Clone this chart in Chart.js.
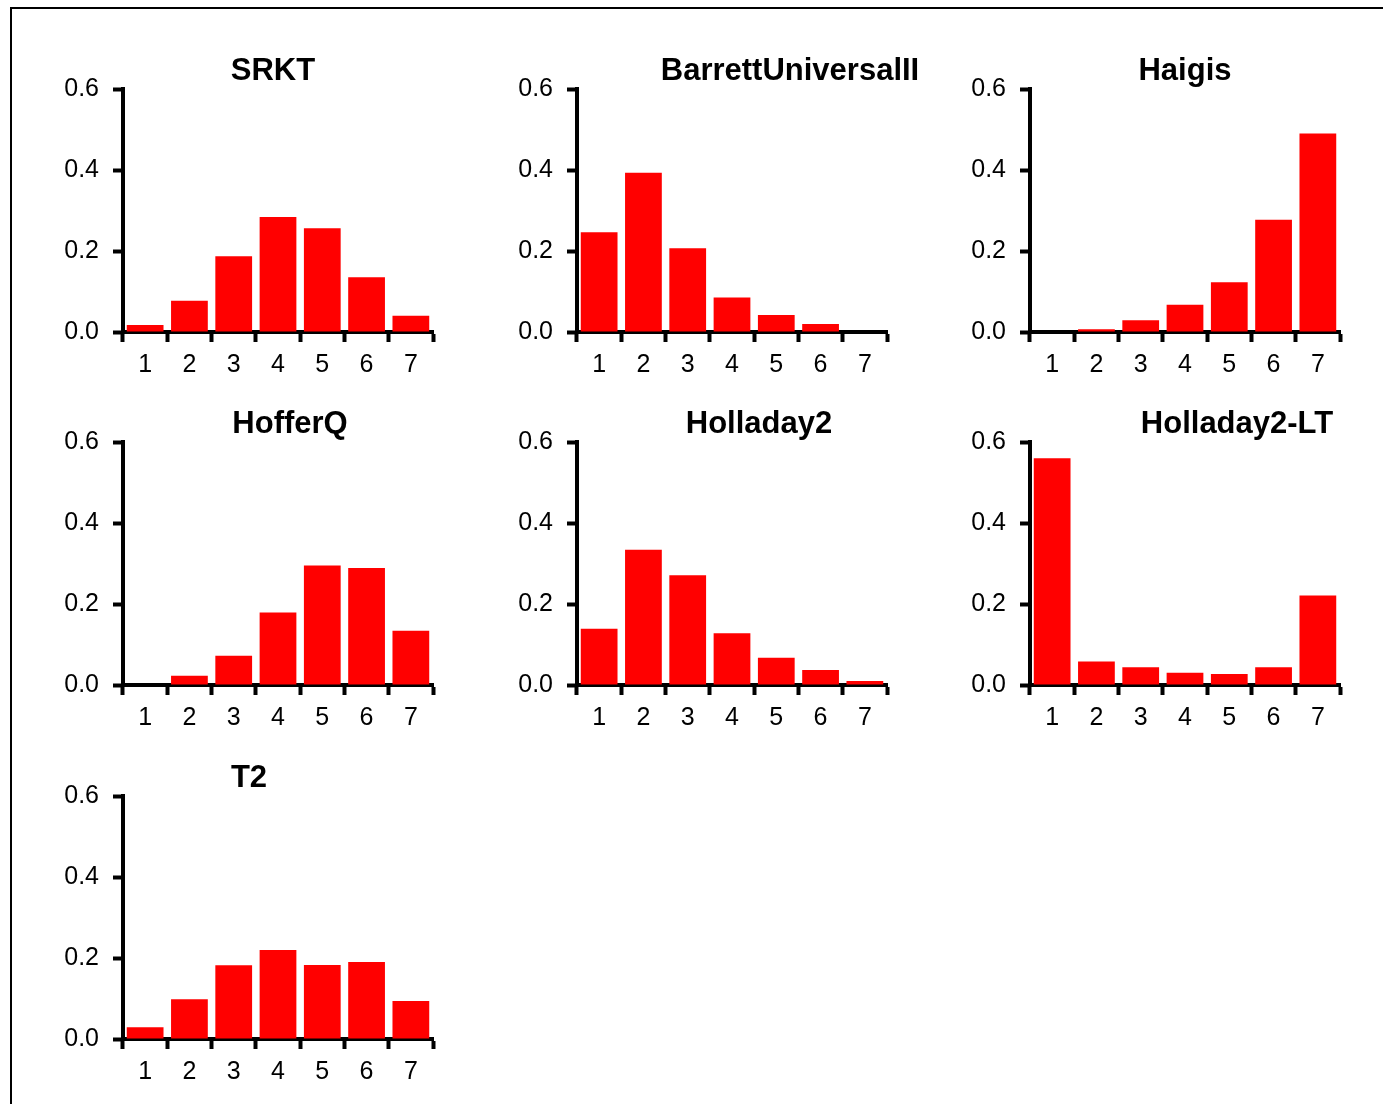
<!DOCTYPE html>
<html>
<head>
<meta charset="utf-8">
<script src="https://cdn.jsdelivr.net/npm/chart.js@4.4.1/dist/chart.umd.min.js"></script>
<style>
    html, body { margin: 0; padding: 0; background: #fff; overflow: hidden; }
    body { width: 1383px; height: 1104px; position: relative; }
    #frame {
        position: absolute; left: 10px; top: 7px; width: 1400px; height: 1120px;
        border-left: 2px solid #000; border-top: 2px solid #000;
    }
    canvas.panel { position: absolute; }
</style>
</head>
<body>
<div id="frame"></div>

<script>
// Bins on the x axis and the y tick values shared by every panel.
const categories = ['1', '2', '3', '4', '5', '6', '7'];
const yTickValues = [0, 0.2, 0.4, 0.6];

// Proportion of eyes per bin, one array per formula.
const srkt        = [0.017, 0.077, 0.187, 0.284, 0.256, 0.135, 0.040];
const barrett     = [0.246, 0.393, 0.207, 0.085, 0.042, 0.020, 0.000];
const haigis      = [0.000, 0.007, 0.029, 0.067, 0.123, 0.277, 0.490];
const hofferQ     = [0.000, 0.023, 0.072, 0.179, 0.295, 0.289, 0.134];
const holladay2   = [0.139, 0.334, 0.271, 0.128, 0.067, 0.037, 0.010];
const holladay2LT = [0.560, 0.058, 0.044, 0.030, 0.027, 0.044, 0.221];
const t2          = [0.029, 0.098, 0.182, 0.220, 0.183, 0.190, 0.094];

const panelNames = ['SRKT', 'BarrettUniversalII', 'Haigis', 'HofferQ', 'Holladay2', 'Holladay2-LT', 'T2'];
const panelData = [srkt, barrett, haigis, hofferQ, holladay2, holladay2LT, t2];

// Page layout: left edge of each column's plot area, top of each row's plot area,
// and how far each title sits from the middle of its plot.
const colLeft = [123, 577, 1030];
const rowTop = [89, 442, 796];
const titleShift = [-5, 58, 0, 12, 27, 52, -29];

const PLOT_W = 310, PLOT_H = 243;
const PAD = { left: 10, top: 60, right: 80, bottom: 5 };
const Y_AXIS_W = 70, X_AXIS_H = 55;
const FONT = '"Liberation Sans", Arial, Helvetica, sans-serif';

Chart.defaults.font.family = FONT;
Chart.defaults.color = '#000';

// Bold title drawn above the plot area, nudged sideways per panel.
const panelTitle = {
    id: 'panelTitle',
    afterDraw(chart, args, opts) {
        const { ctx, chartArea } = chart;
        ctx.save();
        ctx.font = `bold 31px ${FONT}`;
        ctx.fillStyle = '#000';
        ctx.textAlign = 'center';
        ctx.textBaseline = 'alphabetic';
        ctx.fillText(opts.text, (chartArea.left + chartArea.right) / 2 + opts.shift, chartArea.top - 9);
        ctx.restore();
    }
};

function axisStyle() {
    return {
        display: true,
        drawOnChartArea: false,
        drawTicks: true,
        tickLength: 10,
        tickWidth: 4,
        tickColor: '#000'
    };
}

function drawPanel(index) {
    const col = index % 3;
    const row = Math.floor(index / 3);

    const canvas = document.createElement('canvas');
    canvas.className = 'panel';
    const w = PAD.left + Y_AXIS_W + PLOT_W + PAD.right;
    const h = PAD.top + PLOT_H + X_AXIS_H + PAD.bottom;
    canvas.width = w;
    canvas.height = h;
    canvas.style.left = (colLeft[col] - PAD.left - Y_AXIS_W) + 'px';
    canvas.style.top = (rowTop[row] - PAD.top) + 'px';
    canvas.style.width = w + 'px';
    canvas.style.height = h + 'px';
    document.body.appendChild(canvas);

    return new Chart(canvas, {
        type: 'bar',
        data: {
            labels: categories,
            datasets: [{
                label: panelNames[index],
                data: panelData[index],
                backgroundColor: '#ff0000',
                borderWidth: 0,
                barPercentage: 0.83,
                categoryPercentage: 1.0
            }]
        },
        options: {
            responsive: false,
            animation: false,
            devicePixelRatio: 1,
            layout: { padding: PAD },
            plugins: {
                legend: { display: false },
                tooltip: { enabled: false },
                title: { display: false },
                panelTitle: { text: panelNames[index], shift: titleShift[index] }
            },
            scales: {
                x: {
                    z: 1,
                    offset: true,
                    grid: Object.assign(axisStyle(), { offset: true }),
                    border: { display: true, width: 4, color: '#000' },
                    ticks: { font: { size: 25 }, padding: 8, maxRotation: 0 },
                    afterFit: (scale) => { scale.height = X_AXIS_H; }
                },
                y: {
                    z: 1,
                    min: 0,
                    max: 0.6,
                    grid: axisStyle(),
                    border: { display: true, width: 4, color: '#000' },
                    afterBuildTicks: (scale) => {
                        scale.ticks = yTickValues.map(v => ({ value: v }));
                    },
                    ticks: {
                        font: { size: 25 },
                        padding: 14,
                        callback: (value) => Number(value).toFixed(1)
                    },
                    afterFit: (scale) => { scale.width = Y_AXIS_W; }
                }
            }
        },
        plugins: [panelTitle]
    });
}

for (let i = 0; i < panelNames.length; i++) {
    drawPanel(i);
}
</script>
</body>
</html>
